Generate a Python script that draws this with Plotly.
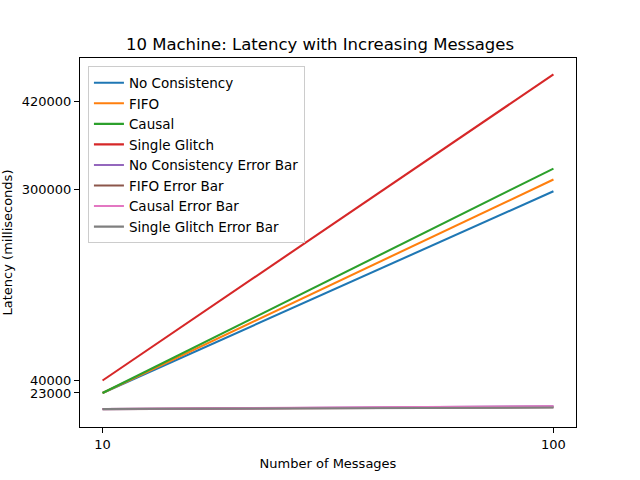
import plotly.graph_objects as go

messages = [10, 100]
no_consistency = [23000, 297700]
fifo = [23000, 313600]
causal = [23000, 328500]
single_glitch = [40000, 456700]
no_consistency_err = [1000, 4800]
fifo_err = [1000, 3700]
causal_err = [1200, 4800]
single_glitch_err = [1200, 3200]

series = [
    ("No Consistency", no_consistency, "#1f77b4"),
    ("FIFO", fifo, "#ff7f0e"),
    ("Causal", causal, "#2ca02c"),
    ("Single Glitch", single_glitch, "#d62728"),
    ("No Consistency Error Bar", no_consistency_err, "#9467bd"),
    ("FIFO Error Bar", fifo_err, "#8c564b"),
    ("Causal Error Bar", causal_err, "#e377c2"),
    ("Single Glitch Error Bar", single_glitch_err, "#7f7f7f"),
]

yticks = [23000, 40000, 300000, 420000]
xticks = [10, 100]

fig = go.Figure()
for name, vals, color in series:
    fig.add_trace(go.Scatter(x=messages, y=vals, mode="lines", name=name,
                             line=dict(color=color, width=2.08)))

font = "DejaVu Sans"
fig.update_layout(
    width=640, height=480,
    margin=dict(l=80, r=64, t=57.6, b=52.8, autoexpand=False),
    paper_bgcolor="white", plot_bgcolor="white",
    font=dict(family=font, size=13, color="black"),
    title=dict(text="10 Machine: Latency with Increasing Messages",
               x=0.5, xanchor="center", y=1 - 44 / 480, yanchor="middle",
               font=dict(size=16.5, family=font)),
    showlegend=True,
    legend=dict(x=0.016, y=0.977, xanchor="left", yanchor="top",
                bgcolor="rgba(255,255,255,0.8)", bordercolor="#cccccc",
                borderwidth=1, font=dict(size=13.5, family=font),
                tracegroupgap=0),
)
fig.update_xaxes(range=[5.5, 104.5], tickvals=xticks, ticktext=[str(v) for v in xticks],
                 automargin=False,
                 showgrid=False, zeroline=False, showline=True, linecolor="black",
                 linewidth=1.1, mirror=True, ticks="outside", ticklen=5,
                 tickcolor="black", tickwidth=1.1,
                 title=dict(text="Number of Messages", font=dict(size=13), standoff=8))
fig.update_yaxes(range=[-23300, 479000], tickvals=yticks, ticktext=[str(v) for v in yticks],
                 automargin=False,
                 showgrid=False, zeroline=False, showline=True, linecolor="black",
                 linewidth=1.1, mirror=True, ticks="outside", ticklen=5,
                 tickcolor="black", tickwidth=1.1,
                 title=dict(text="Latency (milliseconds)", font=dict(size=13), standoff=10))

fig.write_html("out.html", config={"displayModeBar": False},
               post_script="document.body.style.margin='0';document.body.style.padding='0';")
